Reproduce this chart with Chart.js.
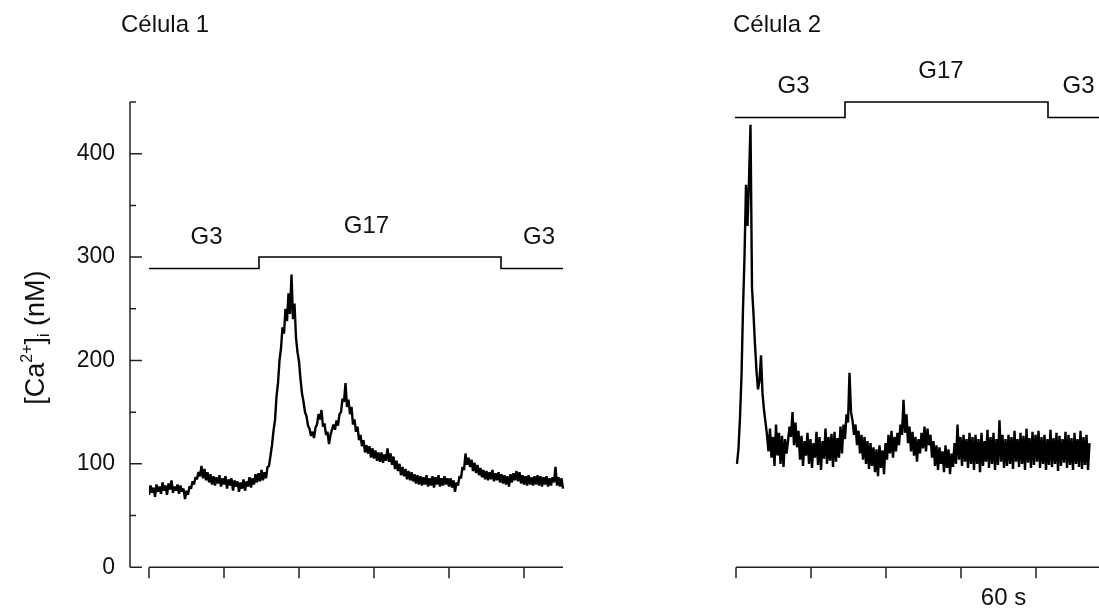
<!DOCTYPE html>
<html>
<head>
<meta charset="utf-8">
<script src="https://cdn.jsdelivr.net/npm/chart.js@4.4.1/dist/chart.umd.min.js"></script>
<style>
  html, body { margin: 0; padding: 0; background: #fff; }
</style>
</head>
<body>
<canvas id="calcium" width="1099" height="615"></canvas>
<script>
// one reading every dt seconds
const dt = 1.2;

// Célula 1, [Ca2+]i in nM, from t = 0
const cell1Ca = [
  70, 79, 72, 77, 68, 80, 73, 78, 71, 82, 74, 79, 70, 81, 75, 84, 72, 78, 74, 80,
  71, 79, 73, 76, 66, 74, 70, 78, 76, 83, 80, 87, 85, 92, 88, 98, 86, 95, 84, 92,
  82, 90, 80, 88, 79, 87, 81, 89, 78, 86, 80, 88, 76, 85, 79, 86, 74, 84, 78, 83,
  73, 82, 76, 85, 74, 83, 78, 87, 77, 86, 80, 90, 82, 91, 83, 94, 84, 92, 86, 97,
  98, 108, 118, 132, 142, 165, 178, 200, 212, 232, 226, 250, 238, 265, 245, 283, 240, 255, 222, 208,
  199, 182, 168, 160, 150, 146, 137, 134, 127, 131, 125, 135, 138, 148, 143, 152, 136, 139, 128, 131,
  119, 128, 133, 138, 133, 142, 137, 148, 150, 163, 160, 178, 155, 162, 148, 155, 138, 143, 131, 136,
  123, 128, 117, 123, 111, 118, 110, 117, 106, 115, 105, 113, 103, 111, 102, 111, 101, 109, 103, 115,
  102, 110, 99, 107, 95, 103, 93, 100, 89, 97, 88, 95, 85, 93, 84, 92, 83, 90, 81, 89,
  80, 88, 79, 87, 80, 89, 78, 86, 79, 88, 77, 87, 80, 89, 78, 86, 79, 88, 80, 86,
  78, 86, 77, 84, 73, 82, 79, 88, 86, 97, 94, 110, 99, 106, 97, 104, 93, 101, 91, 99,
  89, 96, 87, 94, 85, 93, 84, 92, 85, 94, 83, 91, 84, 92, 82, 90, 81, 89, 80, 88,
  78, 90, 82, 91, 84, 93, 83, 92, 81, 89, 80, 88, 79, 89, 80, 87, 79, 88, 80, 89,
  79, 88, 78, 87, 80, 88, 78, 86, 79, 87, 82, 97, 79, 87, 78, 86, 76
];

// Célula 2, [Ca2+]i in nM, from t = cell2Start
const cell2Start = 0.8;
const cell2Ca = [
  100, 115, 145, 185, 250, 300, 370, 330, 375, 428, 270, 245, 215, 190, 172, 180, 205, 168, 152, 140,
  128, 112, 134, 106, 126, 98, 138, 108, 130, 100, 127, 97, 124, 110, 122, 136, 126, 150, 118, 140,
  116, 132, 104, 127, 98, 122, 108, 130, 100, 124, 96, 120, 106, 131, 99, 126, 94, 122, 105, 134,
  100, 126, 103, 129, 97, 131, 102, 125, 106, 136, 110, 138, 124, 148, 140, 188, 150, 142, 128, 138,
  118, 132, 110, 128, 104, 126, 100, 122, 95, 120, 98, 116, 92, 114, 88, 118, 96, 113, 90, 120,
  104, 128, 110, 132, 106, 126, 112, 130, 118, 138, 128, 162, 130, 148, 120, 136, 112, 131, 108, 126,
  102, 124, 110, 130, 115, 136, 112, 134, 118, 128, 106, 122, 98, 118, 94, 116, 100, 112, 92, 118,
  96, 114, 90, 110, 97, 120, 100, 138, 104, 126, 98, 128, 102, 124, 96, 130, 100, 126, 94, 128,
  100, 124, 92, 130, 98, 122, 102, 133, 96, 126, 100, 130, 94, 124, 99, 142, 102, 128, 96, 124,
  98, 128, 100, 126, 95, 132, 102, 124, 97, 130, 100, 127, 94, 134, 101, 125, 96, 131, 99, 128,
  102, 132, 96, 126, 100, 128, 94, 124, 99, 133, 97, 125, 100, 130, 93, 127, 98, 124, 101, 131,
  96, 128, 99, 125, 94, 130, 100, 124, 97, 132, 95, 126, 99, 128, 94, 120
];

// glucose protocol bars (time s, level drawn on the nM scale)
const protoTimes1 = [0, 88, 281.6, 331.2];
const protoLevels1 = [289, 300, 289, 289];
const protoTimes2 = [-0.8, 87.2, 249.6, 290.4];
const protoLevels2 = [435, 450, 435, 435];

// protocol labels
const protoNames = ['G3', 'G17', 'G3'];
const protoLabelTimes1 = [46, 174, 312];
const protoLabelTimes2 = [46, 164, 274];

// axes
const yMax = 450;
const yMajorStep = 100;
const yMinorStep = 50;
const xTickStep = 60;
const scaleBarText = '60 s';
const scaleBarTime = 214;

const FONT = '"Liberation Sans", Arial, sans-serif';

function toPoints(times, values) {
    return values.map((v, i) => ({ x: times[i], y: v }));
}

const cell1Data = cell1Ca.map((v, i) => ({ x: i * dt, y: v }));
const cell2Data = cell2Ca.map((v, i) => ({ x: cell2Start + i * dt, y: v }));

// axes, ticks and text drawn in the original's style
const panelPlugin = {
    id: 'panelPlugin',
    afterDatasetsDraw(chart) {
        const ctx = chart.ctx;
        const y = chart.scales.y;
        const xa = chart.scales.xa;
        const xb = chart.scales.xb;
        const axisX = chart.chartArea.left - 19;
        const base = y.getPixelForValue(0);

        ctx.save();
        ctx.strokeStyle = '#222';
        ctx.lineWidth = 1.5;
        ctx.beginPath();
        ctx.moveTo(axisX, base);
        ctx.lineTo(axisX, y.getPixelForValue(yMax));
        for (let v = 0; v <= yMax; v += yMinorStep) {
            const len = v % yMajorStep === 0 ? 12 : 6;
            const py = y.getPixelForValue(v);
            ctx.moveTo(axisX, py);
            ctx.lineTo(axisX + len, py);
        }
        const cell1End = (cell1Ca.length - 1) * dt;
        [[xa, 0, cell1End], [xb, 0, xb.max]].forEach(([sc, a, b]) => {
            ctx.moveTo(sc.getPixelForValue(a), base);
            ctx.lineTo(sc.getPixelForValue(b), base);
            for (let t = a; t <= b; t += xTickStep) {
                const px = sc.getPixelForValue(t);
                ctx.moveTo(px, base);
                ctx.lineTo(px, base + 11);
            }
        });
        ctx.stroke();

        ctx.fillStyle = '#111';
        ctx.textAlign = 'center';
        ctx.textBaseline = 'middle';
        ctx.font = '24px ' + FONT;
        const labelLevel = (times, levels, t) => {
            let lv = levels[0];
            times.forEach((tt, i) => { if (t >= tt) lv = levels[i]; });
            return lv;
        };
        protoNames.forEach((name, i) => {
            let t = protoLabelTimes1[i];
            ctx.fillText(name, xa.getPixelForValue(t), y.getPixelForValue(labelLevel(protoTimes1, protoLevels1, t)) - 31);
            t = protoLabelTimes2[i];
            ctx.fillText(name, xb.getPixelForValue(t), y.getPixelForValue(labelLevel(protoTimes2, protoLevels2, t)) - 31);
        });
        ctx.fillText(scaleBarText, xb.getPixelForValue(scaleBarTime), base + 31);

        // panel titles
        ctx.textAlign = 'left';
        ctx.textBaseline = 'alphabetic';
        ctx.font = '24px ' + FONT;
        ctx.fillText('Célula 1', 121, 32);
        ctx.fillText('Célula 2', 733, 32);

        // y title [Ca2+]i (nM)
        const big = '27px ' + FONT;
        const small = '16px ' + FONT;
        const parts = [['[Ca', big, 0], ['2+', small, -12], [']', big, 0], ['i', small, 5], [' (nM)', big, 0]];
        let total = 0;
        parts.forEach(p => { ctx.font = p[1]; total += ctx.measureText(p[0]).width; });
        ctx.translate(44, (chart.chartArea.top + chart.chartArea.bottom) / 2 + 3);
        ctx.rotate(-Math.PI / 2);
        let cx = -total / 2;
        parts.forEach(p => {
            ctx.font = p[1];
            ctx.fillText(p[0], cx, p[2]);
            cx += ctx.measureText(p[0]).width;
        });
        ctx.restore();
    }
};

const lineStyle = {
    borderColor: '#000',
    pointRadius: 0,
    tension: 0,
    fill: false,
};

new Chart(document.getElementById('calcium'), {
    type: 'line',
    data: {
        datasets: [
            { ...lineStyle, label: 'Célula 1', data: cell1Data, xAxisID: 'xa', borderWidth: 2.4, borderJoinStyle: 'bevel' },
            { ...lineStyle, label: 'Protocolo 1', data: toPoints(protoTimes1, protoLevels1), xAxisID: 'xa', stepped: 'before', borderWidth: 1.6 },
            { ...lineStyle, label: 'Célula 2', data: cell2Data, xAxisID: 'xb', borderWidth: 2.4, borderJoinStyle: 'bevel' },
            { ...lineStyle, label: 'Protocolo 2', data: toPoints(protoTimes2, protoLevels2), xAxisID: 'xb', stepped: 'before', borderWidth: 1.6, clip: false },
        ],
    },
    options: {
        responsive: false,
        animation: false,
        devicePixelRatio: 1,
        layout: { padding: { top: 102, bottom: 45, left: 0, right: 0 } },
        plugins: { legend: { display: false }, tooltip: { enabled: false } },
        scales: {
            xa: { type: 'linear', min: 0, max: 760, display: false },
            xb: { type: 'linear', min: -469.6, max: 290.4, display: false },
            y: {
                min: 0,
                max: yMax,
                grid: { display: false, drawTicks: false },
                border: { display: false },
                ticks: { stepSize: yMajorStep, padding: 34, color: '#111', font: { size: 23, family: FONT } },
                afterBuildTicks(scale) {
                    scale.ticks = scale.ticks.filter(t => t.value % yMajorStep === 0);
                },
                afterFit(scale) {
                    scale.width = 149;
                },
            },
        },
    },
    plugins: [panelPlugin],
});
</script>
</body>
</html>
